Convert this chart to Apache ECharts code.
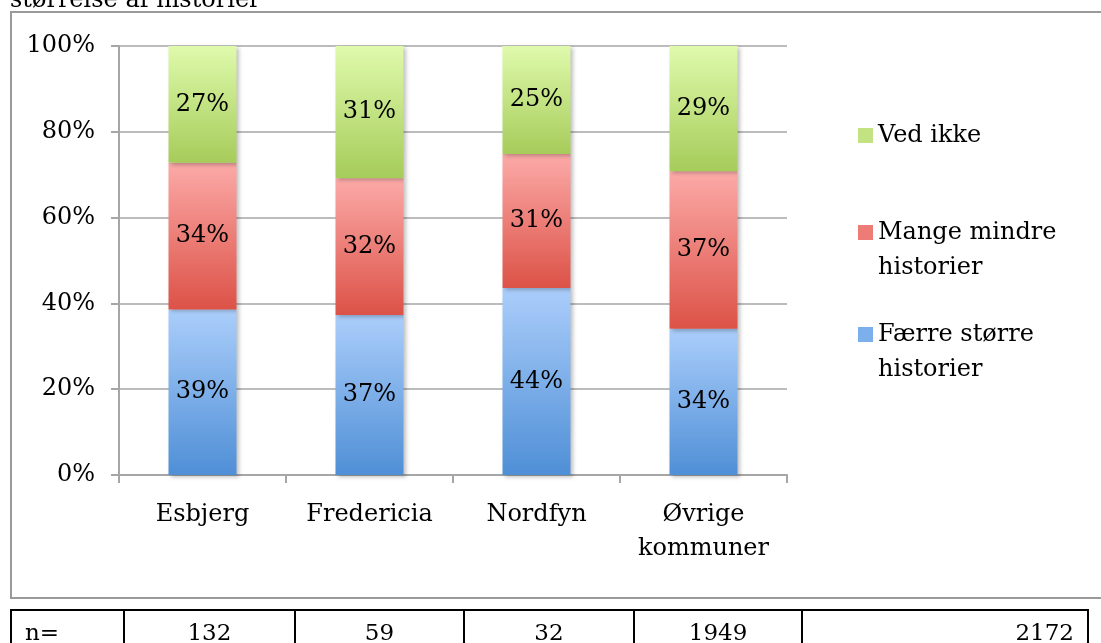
<!DOCTYPE html>
<html>
<head>
<meta charset="utf-8">
<script src="https://cdn.jsdelivr.net/npm/echarts@6/dist/echarts.min.js"></script>
<style>
  body { margin: 0; background: #fff; }
  #chart { position: absolute; left: 0; top: 0; width: 1101px; height: 643px; }
  #ntable {
    position: absolute; left: 10px; top: 609px; width: 1079px;
    border-collapse: collapse; font-family: 'DejaVu Serif', serif; font-size: 23px; color: #000;
  }
  #ntable td { border: 2px solid #000; height: 42px; padding: 0 13px; text-align: center; }
  #ntable td.first { text-align: left; }
  #ntable td.last { text-align: right; }
</style>
</head>
<body>
<div id="chart"></div>
<table id="ntable"><tr id="nrow"></tr></table>
<script>
var categories = ['Esbjerg', 'Fredericia', 'Nordfyn', 'Øvrige\nkommuner'];
var faerreStorre = [38.6, 37.3, 43.6, 34.1];
var mangeMindre = [34.2, 31.9, 31.2, 36.7];
var vedIkke = [27.2, 30.8, 25.2, 29.2];
var nValues = [132, 59, 32, 1949];
var nTotal = 2172;
var colWidths = [114, 171, 170, 170, 169, 285];

var FONT = 'DejaVu Serif';
var AXIS = '#a6a6a6';

function grad(top, bottom) {
  return {
    type: 'linear', x: 0, y: 0, x2: 0, y2: 1,
    colorStops: [{ offset: 0, color: top }, { offset: 1, color: bottom }]
  };
}

function barSeries(name, data, top, bottom) {
  return {
    name: name,
    type: 'bar',
    stack: 'total',
    barWidth: 68,
    data: data,
    itemStyle: {
      color: grad(top, bottom),
      shadowBlur: 4,
      shadowOffsetX: 2,
      shadowOffsetY: 2,
      shadowColor: 'rgba(0,0,0,0.25)'
    },
    label: {
      show: true,
      position: 'inside',
      color: '#000',
      fontFamily: FONT,
      fontSize: 24,
      formatter: function (p) { return Math.round(p.value) + '%'; }
    }
  };
}

// square legend marker sitting on the first text line
var tallIcon = 'path://M0,0L15,0L15,15L0,15Z M0,50L0.01,50';

function legendAt(top, name, icon, h, color) {
  return {
    left: 853,
    top: top,
    orient: 'vertical',
    selectedMode: false,
    icon: icon,
    itemWidth: 15,
    itemHeight: h,
    data: [{ name: name, itemStyle: { color: color, shadowBlur: 0, shadowOffsetX: 0, shadowOffsetY: 0 } }],
    formatter: function (n) { return n.replace(' historier', '\nhistorier'); },
    textStyle: { fontFamily: FONT, fontSize: 24, color: '#000', lineHeight: 35 }
  };
}

var chart = echarts.init(document.getElementById('chart'));
chart.setOption({
  animation: false,
  grid: { left: 119, right: 314, top: 46, bottom: 168 },
  graphic: [
    {
      type: 'rect',
      shape: { x: 11, y: 12, width: 1110, height: 586 },
      style: { fill: 'none', stroke: '#9a9a9a', lineWidth: 2 }
    },
    {
      type: 'text',
      x: 10, y: 13,
      style: { text: 'størrelse af historier', font: '24px "DejaVu Serif"', fill: '#000', verticalAlign: 'bottom' }
    }
  ],
  legend: [
    legendAt(113, 'Ved ikke', 'rect', 15, '#c3e383'),
    legendAt(210, 'Mange mindre historier', tallIcon, 50, '#ee7c76'),
    legendAt(312, 'Færre større historier', tallIcon, 50, '#7cb0ec')
  ],
  xAxis: {
    type: 'category',
    data: categories,
    axisLine: { lineStyle: { color: AXIS, width: 2 } },
    axisTick: { show: true, interval: 0, length: 8, lineStyle: { color: AXIS, width: 2 } },
    axisLabel: { interval: 0, color: '#000', fontFamily: FONT, fontSize: 24, lineHeight: 34, margin: 23 }
  },
  yAxis: {
    type: 'value',
    min: 0,
    max: 100,
    interval: 20,
    axisLine: { show: true, lineStyle: { color: AXIS, width: 2 } },
    axisTick: { show: true, length: 8, lineStyle: { color: AXIS, width: 2 } },
    splitLine: { lineStyle: { color: AXIS, width: 1.5 } },
    axisLabel: { color: '#000', fontFamily: FONT, fontSize: 24, margin: 24, formatter: '{value}%' }
  },
  series: [
    barSeries('Færre større historier', faerreStorre, '#abcefb', '#4f8fd6'),
    barSeries('Mange mindre historier', mangeMindre, '#fcaaa8', '#dc5247'),
    barSeries('Ved ikke', vedIkke, '#dffaac', '#a6cc5a')
  ]
});

// n= table
var cells = ['n='].concat(nValues, [nTotal]);
var row = document.getElementById('nrow');
cells.forEach(function (v, i) {
  var td = document.createElement('td');
  td.textContent = v;
  td.style.width = (colWidths[i] - 30) + 'px';
  if (i === 0) td.className = 'first';
  if (i === cells.length - 1) td.className = 'last';
  row.appendChild(td);
});
</script>
</body>
</html>
